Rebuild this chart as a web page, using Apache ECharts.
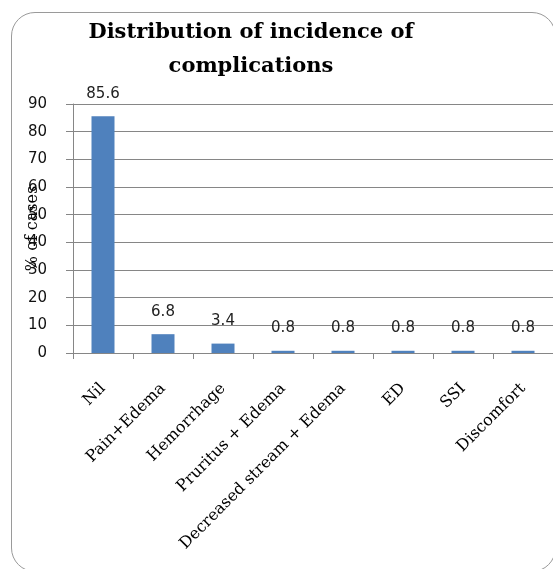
<!DOCTYPE html>
<html>
<head>
<meta charset="utf-8">
<script src="https://cdn.jsdelivr.net/npm/echarts@6/dist/echarts.min.js"></script>
<style>
html,body{margin:0;padding:0;background:#fff;}
#frame{position:absolute;left:11px;top:12px;width:545px;height:560px;border:1.5px solid #9a9a9a;border-radius:24px;box-sizing:border-box;}
#chart{position:absolute;left:0;top:0;width:553px;height:569px;}
</style>
</head>
<body>
<div id="frame"></div>
<div id="chart"></div>
<script>
const titleText = "Distribution of incidence of\ncomplications";
const yAxisName = "% of cases";
const categories = ["Nil", "Pain+Edema", "Hemorrhage", "Pruritus + Edema", "Decreased stream + Edema", "ED", "SSI", "Discomfort"];
const values = [85.6, 6.8, 3.4, 0.8, 0.8, 0.8, 0.8, 0.8];
const yTicks = [0, 10, 20, 30, 40, 50, 60, 70, 80, 90];

const chart = echarts.init(document.getElementById('chart'), null, {renderer: 'canvas'});
chart.setOption({
  animation: false,
  backgroundColor: 'transparent',
  title: {
    text: titleText,
    left: 246,
    textAlign: 'center',
    top: 11,
    textStyle: {
      fontFamily: 'DejaVu Serif',
      fontWeight: 'bold',
      fontSize: 21,
      lineHeight: 34,
      color: '#000'
    }
  },
  grid: {left: 73, right: 0, top: 104, bottom: 216, containLabel: false, outerBoundsMode: 'none'},
  xAxis: {
    type: 'category',
    data: categories,
    axisLine: {lineStyle: {color: '#868686', width: 1}},
    axisTick: {show: true, length: 6, lineStyle: {color: '#868686'}},
    axisLabel: {
      rotate: 45,
      interval: 0,
      margin: 33,
      fontFamily: 'DejaVu Serif',
      fontSize: 16,
      color: '#000'
    }
  },
  yAxis: {
    type: 'value',
    min: 0,
    max: 90,
    interval: 10,
    name: yAxisName,
    nameLocation: 'middle',
    nameRotate: 90,
    nameGap: 32,
    nameMoveOverlap: false,
    nameTextStyle: {fontFamily: 'DejaVu Serif', fontSize: 16, color: '#000'},
    axisLine: {show: true, lineStyle: {color: '#868686'}},
    axisTick: {show: true, inside: false, length: 7, lineStyle: {color: '#868686'}},
    splitLine: {show: true, lineStyle: {color: '#868686', width: 1}},
    axisLabel: {
      margin: 26,
      fontFamily: 'DejaVu Sans',
      fontSize: 15,
      color: '#111'
    }
  },
  series: [{
    type: 'bar',
    data: values,
    barWidth: 23,
    itemStyle: {color: '#4F81BD'},
    label: {
      show: true,
      position: 'top',
      distance: 15,
      fontFamily: 'DejaVu Sans',
      fontSize: 15,
      color: '#222'
    }
  }]
});
</script>
</body>
</html>
